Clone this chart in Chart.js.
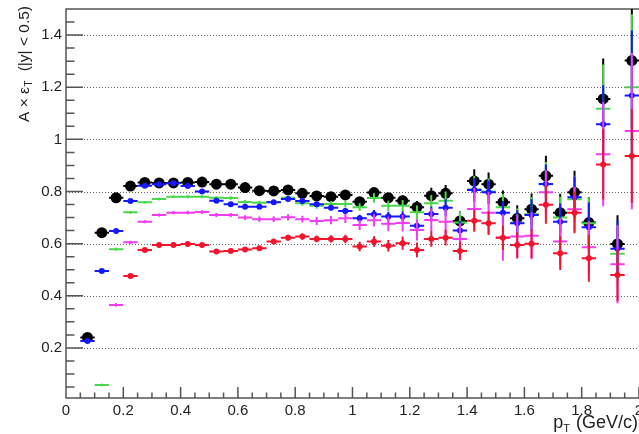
<!DOCTYPE html>
<html>
<head>
<meta charset="utf-8">
<script src="https://cdn.jsdelivr.net/npm/chart.js@4.4.1/dist/chart.umd.min.js"></script>
<style>
  html, body { margin: 0; padding: 0; background: #fff; overflow: hidden; }
  #wrap { width: 639px; height: 434px; overflow: hidden; }
  canvas { display: block; }
</style>
</head>
<body>
<div id="wrap"><canvas id="chart" width="680" height="434"></canvas></div>
<script>
// pT bin centres (GeV/c), bin width 0.05
const ptBins = [0.075, 0.125, 0.175, 0.225, 0.275, 0.325, 0.375, 0.425, 0.475, 0.525,
                0.575, 0.625, 0.675, 0.725, 0.775, 0.825, 0.875, 0.925, 0.975, 1.025,
                1.075, 1.125, 1.175, 1.225, 1.275, 1.325, 1.375, 1.425, 1.475, 1.525,
                1.575, 1.625, 1.675, 1.725, 1.775, 1.825, 1.875, 1.925, 1.975];
const binHalf = 0.025;

const blackVals = [0.240, 0.642, 0.776, 0.821, 0.835, 0.833, 0.833, 0.835, 0.836, 0.828,
                   0.828, 0.815, 0.803, 0.802, 0.806, 0.793, 0.783, 0.780, 0.787, 0.761,
                   0.796, 0.776, 0.765, 0.740, 0.784, 0.793, 0.687, 0.840, 0.828, 0.759,
                   0.697, 0.732, 0.860, 0.719, 0.797, 0.681, 1.155, 0.599, 1.302];
const blackErr  = [0.004, 0.005, 0.005, 0.005, 0.005, 0.005, 0.005, 0.005, 0.006, 0.006,
                   0.006, 0.007, 0.007, 0.008, 0.008, 0.009, 0.010, 0.011, 0.012, 0.014,
                   0.016, 0.018, 0.020, 0.024, 0.030, 0.032, 0.036, 0.045, 0.045, 0.045,
                   0.050, 0.060, 0.077, 0.072, 0.083, 0.098, 0.155, 0.110, 0.260];

const greenVals = [null, 0.058, 0.579, 0.720, 0.759, 0.771, 0.780, 0.780, 0.780, 0.776,
                   0.775, 0.760, 0.757, 0.760, 0.776, 0.755, 0.745, 0.752, 0.752, 0.740,
                   0.775, 0.745, 0.745, 0.720, 0.755, 0.765, 0.681, 0.809, 0.800, 0.740,
                   0.680, 0.714, 0.828, 0.700, 0.770, 0.678, 1.117, 0.561, 1.200];
const greenErr  = [0, 0.005, 0.005, 0.005, 0.005, 0.005, 0.005, 0.006, 0.006, 0.006,
                   0.007, 0.007, 0.008, 0.008, 0.009, 0.010, 0.011, 0.012, 0.013, 0.015,
                   0.018, 0.020, 0.022, 0.026, 0.032, 0.035, 0.040, 0.050, 0.050, 0.050,
                   0.055, 0.065, 0.085, 0.080, 0.090, 0.100, 0.170, 0.120, 0.280];

const blueVals  = [0.227, 0.495, 0.649, 0.764, 0.822, 0.828, 0.832, 0.821, 0.800, 0.765,
                   0.751, 0.742, 0.742, 0.759, 0.771, 0.764, 0.751, 0.738, 0.725, 0.697,
                   0.713, 0.704, 0.704, 0.669, 0.714, 0.738, 0.650, 0.806, 0.797, 0.719,
                   0.678, 0.710, 0.829, 0.684, 0.778, 0.663, 1.058, 0.580, 1.168];
const blueErr   = [0.004, 0.004, 0.005, 0.005, 0.005, 0.005, 0.005, 0.005, 0.006, 0.006,
                   0.006, 0.007, 0.007, 0.008, 0.008, 0.009, 0.010, 0.011, 0.012, 0.014,
                   0.016, 0.018, 0.020, 0.024, 0.028, 0.032, 0.036, 0.045, 0.045, 0.045,
                   0.050, 0.060, 0.075, 0.070, 0.080, 0.095, 0.150, 0.110, 0.250];

const magentaVals = [null, null, 0.365, 0.605, 0.684, 0.710, 0.719, 0.719, 0.721, 0.710,
                     0.710, 0.700, 0.694, 0.694, 0.701, 0.694, 0.687, 0.690, 0.697, 0.672,
                     0.690, 0.676, 0.679, 0.652, 0.691, 0.684, 0.618, 0.733, 0.719, 0.624,
                     0.627, 0.630, 0.797, 0.608, 0.732, 0.586, 0.943, 0.521, 1.032];
const magentaErr  = [0, 0, 0.006, 0.006, 0.006, 0.006, 0.006, 0.007, 0.007, 0.008,
                     0.008, 0.009, 0.010, 0.011, 0.012, 0.013, 0.015, 0.016, 0.018, 0.020,
                     0.024, 0.028, 0.032, 0.040, 0.045, 0.050, 0.060, 0.080, 0.080, 0.090,
                     0.085, 0.090, 0.085, 0.090, 0.085, 0.100, 0.200, 0.150, 0.300];

const redVals = [null, null, null, 0.476, 0.576, 0.595, 0.595, 0.599, 0.595, 0.570,
                 0.572, 0.578, 0.582, 0.608, 0.623, 0.627, 0.618, 0.618, 0.618, 0.589,
                 0.608, 0.592, 0.602, 0.576, 0.618, 0.623, 0.572, 0.688, 0.678, 0.623,
                 0.595, 0.600, 0.749, 0.563, 0.719, 0.544, 0.904, 0.480, 0.936];
const redErr  = [0, 0, 0, 0.006, 0.006, 0.006, 0.006, 0.006, 0.007, 0.007,
                 0.008, 0.008, 0.009, 0.010, 0.011, 0.012, 0.013, 0.014, 0.016, 0.018,
                 0.020, 0.022, 0.025, 0.028, 0.030, 0.030, 0.035, 0.042, 0.045, 0.047,
                 0.049, 0.055, 0.073, 0.064, 0.079, 0.090, 0.135, 0.100, 0.180];

const xTicks = [0, 0.2, 0.4, 0.6, 0.8, 1, 1.2, 1.4, 1.6, 1.8, 2];
const yTicks = [0.2, 0.4, 0.6, 0.8, 1, 1.2, 1.4];

const FONT = "'Liberation Sans', Arial, sans-serif";
const AXIS_COL = '#555';

function points(vals, errs) {
    return ptBins
        .map((x, i) => vals[i] === null ? null : { x: x, y: vals[i], e: errs[i] })
        .filter(Boolean);
}

/* ROOT-like frame: dotted grid, box, inside ticks */
const rootFrame = {
    id: 'rootFrame',
    beforeDatasetsDraw(chart) {
        const { ctx, chartArea: a, scales: { x, y } } = chart;
        ctx.save();
        ctx.strokeStyle = '#666';
        ctx.lineWidth = 1;
        ctx.setLineDash([1, 2]);
        yTicks.forEach(v => {
            const py = Math.round(y.getPixelForValue(v)) + 0.5;
            ctx.beginPath();
            ctx.moveTo(a.left, py);
            ctx.lineTo(a.right + 40, py);
            ctx.stroke();
        });
        ctx.setLineDash([]);

        ctx.strokeStyle = AXIS_COL;
        ctx.lineWidth = 1.5;
        ctx.beginPath();
        ctx.moveTo(a.right + 40, a.top);
        ctx.lineTo(a.left, a.top);
        ctx.lineTo(a.left, a.bottom);
        ctx.lineTo(a.right + 40, a.bottom);
        ctx.stroke();

        // x ticks every 0.05, major every 0.2
        ctx.beginPath();
        for (let k = 1; k <= 40; k++) {
            const px = x.getPixelForValue(k * 0.05);
            const len = k % 4 === 0 ? 11 : 5.5;
            ctx.moveTo(px, a.bottom);
            ctx.lineTo(px, a.bottom - len);
        }
        // y ticks every 0.05, major every 0.2
        for (let k = 1; k < 30; k++) {
            const py = y.getPixelForValue(k * 0.05);
            const len = k % 4 === 0 ? 17 : 8.5;
            ctx.moveTo(a.left, py);
            ctx.lineTo(a.left + len, py);
        }
        ctx.stroke();
        ctx.restore();
    },
    afterDraw(chart) {
        const { ctx } = chart;
        ctx.save();
        ctx.fillStyle = '#222';

        // y title, rotated
        ctx.translate(29, 122);
        ctx.rotate(-Math.PI / 2);
        ctx.font = '15.5px ' + FONT;
        ctx.textBaseline = 'alphabetic';
        let pos = 0;
        ctx.fillText('A \u00d7 \u03b5', pos, 0);
        pos += ctx.measureText('A \u00d7 \u03b5').width;
        ctx.font = '10px ' + FONT;
        ctx.fillText('T', pos + 0.5, 3);
        pos += ctx.measureText('T').width + 1;
        ctx.font = '15.5px ' + FONT;
        ctx.fillText('  (|y| < 0.5)', pos, 0);
        ctx.setTransform(1, 0, 0, 1, 0, 0);

        // x title, right aligned
        ctx.font = '18px ' + FONT;
        const rest = ' (GeV/c)';
        const wRest = ctx.measureText(rest).width;
        const right = 638;
        ctx.fillText(rest, right - wRest, 428);
        ctx.font = '11px ' + FONT;
        const wT = ctx.measureText('T').width;
        ctx.fillText('T', right - wRest - wT - 1, 432);
        ctx.font = '18px ' + FONT;
        const wp = ctx.measureText('p').width;
        ctx.fillText('p', right - wRest - wT - wp - 1, 428);
        ctx.restore();
    }
};

/* bin-width and uncertainty bars, drawn just under each dataset's markers */
const errorBars = {
    id: 'errorBars',
    beforeDatasetDraw(chart, args) {
        const ds = chart.data.datasets[args.index];
        const { ctx, chartArea: a, scales: { x, y } } = chart;
        ctx.save();
        ctx.beginPath();
        ctx.rect(a.left, a.top, a.right - a.left + 40, a.bottom - a.top);
        ctx.clip();
        ctx.strokeStyle = ds.barColor;
        ctx.lineWidth = 2;
        ctx.beginPath();
        ds.data.forEach(p => {
            const px = x.getPixelForValue(p.x);
            const py = y.getPixelForValue(p.y);
            ctx.moveTo(x.getPixelForValue(p.x - binHalf), py);
            ctx.lineTo(x.getPixelForValue(p.x + binHalf), py);
            ctx.moveTo(px, y.getPixelForValue(p.y - p.e));
            ctx.lineTo(px, y.getPixelForValue(p.y + p.e));
        });
        ctx.stroke();
        ctx.restore();
    }
};

const makeSet = (label, vals, errs, color, radius) => ({
    label,
    data: points(vals, errs),
    barColor: color,
    backgroundColor: color,
    borderColor: color,
    borderWidth: 0,
    pointRadius: radius,
    pointHoverRadius: radius,
    showLine: false
});

new Chart(document.getElementById('chart'), {
    type: 'scatter',
    data: {
        // first dataset is drawn on top
        datasets: [
            makeSet('red', redVals, redErr, '#f2142c', 3),
            makeSet('magenta', magentaVals, magentaErr, '#f23cf2', 1.3),
            makeSet('blue', blueVals, blueErr, '#1616ff', 3),
            makeSet('green', greenVals, greenErr, '#4ad84a', 1.3),
            makeSet('black', blackVals, blackErr, '#000000', 5.5)
        ]
    },
    options: {
        responsive: false,
        animation: false,
        layout: { padding: { top: 9, right: 41, left: 0, bottom: 0 } },
        plugins: {
            legend: { display: false },
            tooltip: { enabled: false }
        },
        scales: {
            x: {
                type: 'linear',
                min: 0, max: 2,
                afterFit: s => { s.height = 36; s.paddingLeft = 0; s.paddingRight = 0; },
                afterBuildTicks: s => { s.ticks = xTicks.map(v => ({ value: v })); },
                grid: { display: false, drawTicks: false },
                border: { display: false },
                ticks: {
                    color: '#222',
                    font: { family: FONT, size: 15 },
                    padding: 4,
                    maxRotation: 0,
                    autoSkip: false,
                    callback: v => String(+v.toFixed(1))
                }
            },
            y: {
                type: 'linear',
                min: 0.008, max: 1.5,
                afterFit: s => { s.width = 66; s.paddingTop = 0; s.paddingBottom = 0; },
                afterBuildTicks: s => { s.ticks = yTicks.map(v => ({ value: v })); },
                grid: { display: false, drawTicks: false },
                border: { display: false },
                ticks: {
                    color: '#222',
                    font: { family: FONT, size: 15 },
                    padding: 4,
                    autoSkip: false,
                    callback: v => String(+v.toFixed(1))
                }
            }
        }
    },
    plugins: [rootFrame, errorBars]
});
</script>
</body>
</html>
